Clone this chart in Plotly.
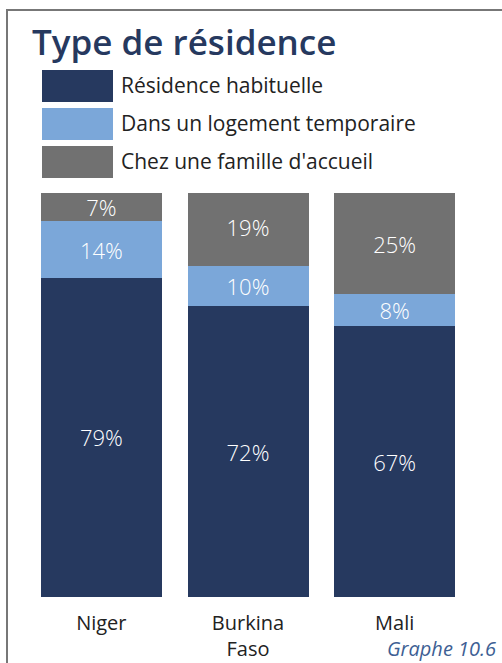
import plotly.graph_objects as go

# Data: share of displaced people by type of residence, per country (%)
countries = ["Niger", "Burkina<br>Faso", "Mali"]
series_names = ["Résidence habituelle", "Dans un logement temporaire", "Chez une famille d'accueil"]
habituelle = [79, 72, 67]
temporaire = [14, 10, 8]
accueil = [7, 19, 25]
series_values = [habituelle, temporaire, accueil]
series_colors = ["#26395F", "#7BA7D9", "#717171"]

W_PX, H_PX = 502, 663
M_L, M_R, M_T, M_B = 28, 34, 193, 66
PLOT_W = W_PX - M_L - M_R
PLOT_H = H_PX - M_T - M_B


def px_x(x):
    return (x - M_L) / PLOT_W


def px_y(y):
    return (H_PX - M_B - y) / PLOT_H


FONT = "'Open Sans', Lato, sans-serif"

fig = go.Figure()
for name, vals, col in zip(series_names, series_values, series_colors):
    fig.add_trace(go.Bar(
        x=countries,
        y=vals,
        name=name,
        marker=dict(color=col, line=dict(width=0)),
        text=[f"{v}%" for v in vals],
        textposition="inside",
        insidetextanchor="middle",
        textangle=0,
        constraintext="none",
        textfont=dict(family=FONT, size=22, color="white", weight=300),
        hoverinfo="skip",
        showlegend=False,
    ))

shapes = []
annotations = []

# Frame around the graphic
shapes.append(dict(
    type="rect", xref="paper", yref="paper",
    x0=px_x(7), x1=px_x(520), y0=px_y(680), y1=px_y(10),
    line=dict(color="#777777", width=2), fillcolor="rgba(0,0,0,0)", layer="below",
))

# Title
annotations.append(dict(
    text="Type de résidence", xref="paper", yref="paper",
    x=px_x(30), y=px_y(41), xanchor="left", yanchor="middle",
    showarrow=False,
    font=dict(family=FONT, size=35, color="#26395F", weight=600),
))

# Legend built from large swatches
for i, (name, col) in enumerate(zip(series_names, series_colors)):
    top = 70 + i * 38
    shapes.append(dict(
        type="rect", xref="paper", yref="paper",
        x0=px_x(42), x1=px_x(113), y0=px_y(top + 32), y1=px_y(top),
        line=dict(width=0), fillcolor=col,
    ))
    annotations.append(dict(
        text=name, xref="paper", yref="paper",
        x=px_x(119), y=px_y(top + 15), xanchor="left", yanchor="middle",
        showarrow=False,
        font=dict(family=FONT, size=21, color="#222222"),
    ))

# Source caption
annotations.append(dict(
    text="<i>Graphe 10.6</i>", xref="paper", yref="paper",
    x=px_x(498), y=px_y(648), xanchor="right", yanchor="middle",
    showarrow=False,
    font=dict(family=FONT, size=20, color="#3E5F94"),
))

fig.update_layout(
    width=W_PX, height=H_PX,
    margin=dict(l=M_L, r=M_R, t=M_T, b=M_B, pad=0),
    paper_bgcolor="white", plot_bgcolor="white",
    barmode="stack",
    bargap=0.175,
    showlegend=False,
    uniformtext=dict(mode=False),
    shapes=shapes,
    annotations=annotations,
    xaxis=dict(
        showgrid=False, zeroline=False, showline=False, ticks="",
        tickfont=dict(family=FONT, size=20, color="#222222"),
        ticklabelstandoff=12,
        automargin=False,
        fixedrange=True,
    ),
    yaxis=dict(
        range=[0, 100], visible=False, fixedrange=True, automargin=False,
    ),
)

fig.write_html("out.html", config={"displayModeBar": False})
